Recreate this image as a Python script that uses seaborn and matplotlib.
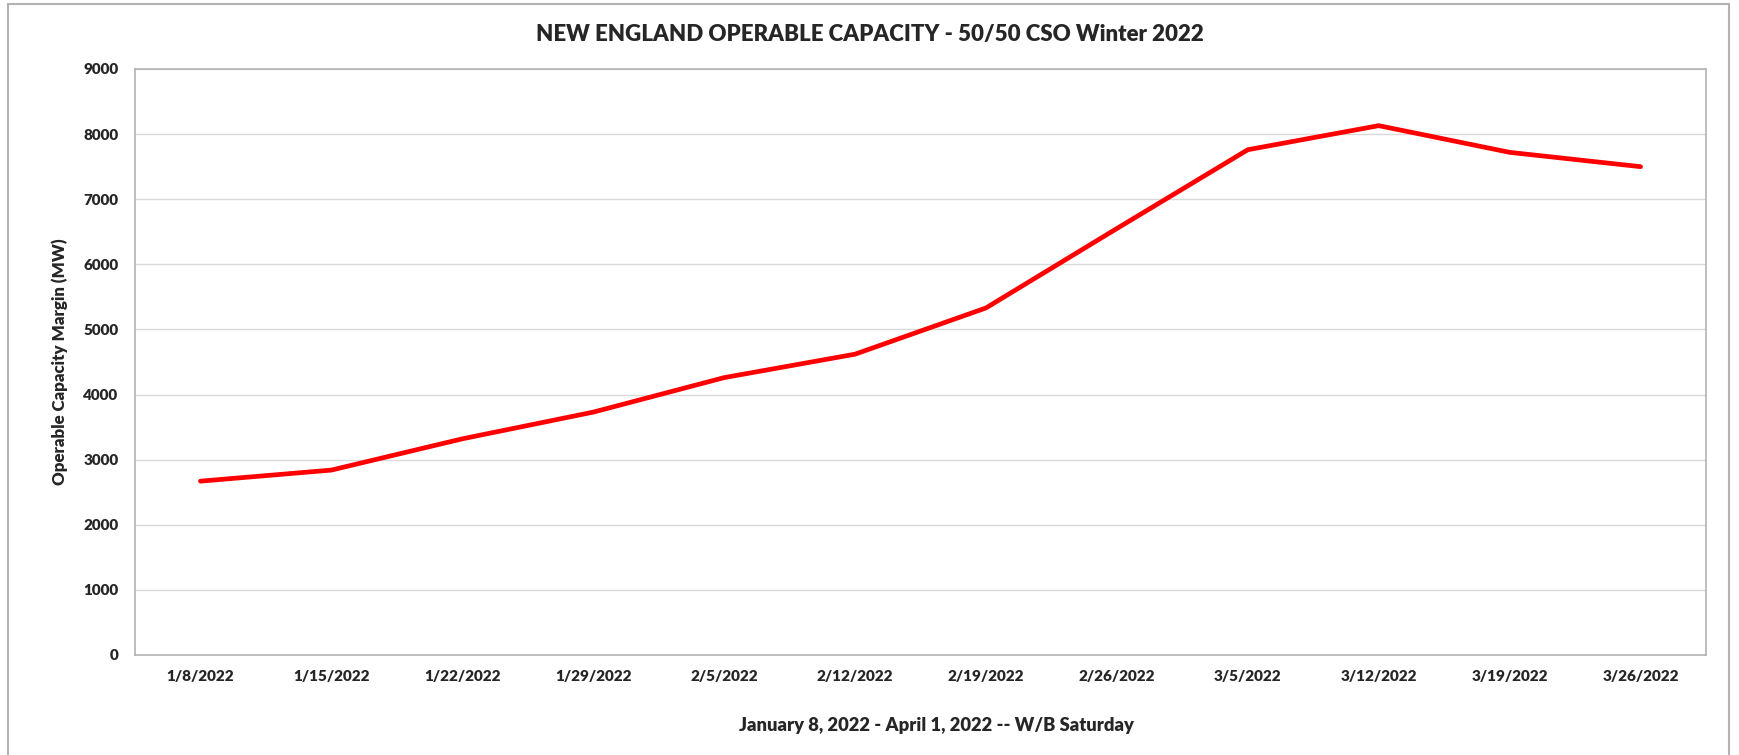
import matplotlib
matplotlib.use("Agg")
import matplotlib.pyplot as plt
from matplotlib.patches import Rectangle
import seaborn as sns
import pandas as pd

# Weekly operable capacity margin, week beginning Saturday
weeks = ["1/8/2022", "1/15/2022", "1/22/2022", "1/29/2022", "2/5/2022", "2/12/2022",
         "2/19/2022", "2/26/2022", "3/5/2022", "3/12/2022", "3/19/2022", "3/26/2022"]
margin_mw = [2670, 2840, 3320, 3730, 4260, 4620, 5330, 6550, 7760, 8130, 7720, 7500]
y_ticks = [0, 1000, 2000, 3000, 4000, 5000, 6000, 7000, 8000, 9000]

title = "NEW ENGLAND OPERABLE CAPACITY - 50/50 CSO Winter 2022"
x_label = "January 8, 2022 - April 1, 2022 -- W/B Saturday"
y_label = "Operable Capacity Margin (MW)"

sns.set_theme(style="white")
plt.rcParams["font.family"] = ["Lato", "DejaVu Sans"]
WEIGHT = "heavy"

W, H = 1740, 755
fig = plt.figure(figsize=(W / 100, H / 100), dpi=100)
fig.patch.set_facecolor("white")
left, right, top, bottom = 135, 1706, 69, 655
ax = fig.add_axes([left / W, 1 - bottom / H, (right - left) / W, (bottom - top) / H])

df = pd.DataFrame({"week": weeks, "mw": margin_mw})
sns.lineplot(data=df, x="week", y="mw", sort=False, color="#ff0000",
             linewidth=3.4, ax=ax, solid_capstyle="round")

ax.set_xlim(-0.5, len(weeks) - 0.5)
ax.set_ylim(0, 9000)
ax.set_yticks(y_ticks)
ax.set_yticklabels([str(v) for v in y_ticks], fontsize=11, fontweight=WEIGHT)
ax.set_xticks(range(len(weeks)))
ax.set_xticklabels(weeks, fontsize=11, fontweight=WEIGHT)
ax.tick_params(axis="both", length=0)
ax.tick_params(axis="x", pad=11)
ax.tick_params(axis="y", pad=12)

ax.grid(axis="y", color="#d9d9d9", linewidth=1)
ax.grid(axis="x", visible=False)
for s in ax.spines.values():
    s.set_color("#b3b3b3")
    s.set_linewidth(1.2)
    s.set_visible(True)

ax.set_xlabel(x_label, fontsize=13.2, fontweight=WEIGHT)
ax.xaxis.set_label_coords(0.51, -0.105)
ax.set_ylabel(y_label, fontsize=12.2, fontweight=WEIGHT, labelpad=11)
fig.text(0.5, 1 - 34 / H, title, ha="center", va="center",
         fontsize=16, fontweight=WEIGHT)

# outer chart frame
fig.add_artist(Rectangle((8 / W, -0.05), (1729 - 8) / W, 1.05 - 4 / H,
                         transform=fig.transFigure, fill=False,
                         edgecolor="#b3b3b3", linewidth=1.5))

fig.savefig("out.png", dpi=100, facecolor="white")
